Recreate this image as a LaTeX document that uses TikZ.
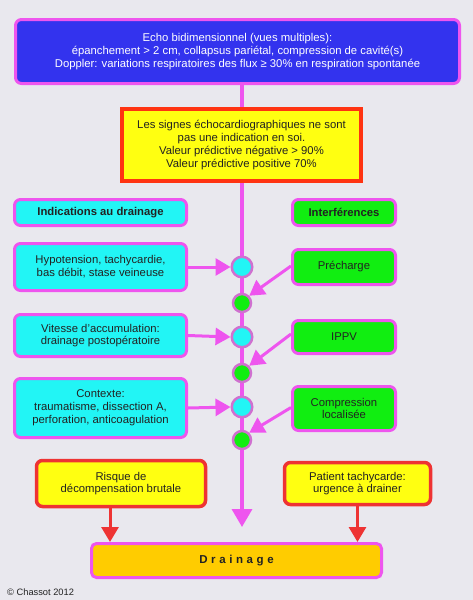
\documentclass[tikz,border=0pt]{standalone}
\usepackage{fontspec}
\setmainfont{Liberation Sans}
\usetikzlibrary{arrows.meta,backgrounds,calc}
\definecolor{bg}{HTML}{E9E8EE}
\definecolor{mag}{HTML}{EE55EE}
\definecolor{dotb}{HTML}{D070D0}
\definecolor{blu}{HTML}{3333EE}
\definecolor{cya}{HTML}{22F5F5}
\definecolor{grn}{HTML}{11EE11}
\definecolor{yel}{HTML}{FFFF11}
\definecolor{redb}{HTML}{EE3333}
\definecolor{orb}{HTML}{FF3311}
\definecolor{gold}{HTML}{FFCC00}
\definecolor{txt}{HTML}{222222}
\tikzset{
  base/.style={align=center, inner sep=2pt, text=txt, font=\fontsize{11.3}{12.8}\selectfont},
  mbox/.style={base, draw=mag, line width=3pt, rounded corners=6pt},
  rbox/.style={base, draw=redb, line width=3.5pt, rounded corners=6pt, fill=yel},
  cbox/.style={mbox, fill=cya, minimum width=172pt},
  gbox/.style={mbox, fill=grn, minimum width=103pt},
  cdot/.style={circle, draw=dotb, line width=2.5pt, fill=cya, minimum size=20.5pt, inner sep=0pt},
  gdot/.style={circle, draw=dotb, line width=2.5pt, fill=grn, minimum size=18pt, inner sep=0pt},
  marrow/.style={draw=mag, line width=3pt, -{Triangle[width=17pt,length=15pt]}},
  rarrow/.style={draw=redb, line width=3pt, -{Triangle[width=17pt,length=15pt]}},
}
\begin{document}
\begin{tikzpicture}[x=1pt,y=-1pt]
\begin{scope}[on background layer]
  \fill[bg] (0,0) rectangle (473,600);
\end{scope}
\useasboundingbox (0,0) rectangle (473,600);

\node[mbox, fill=blu, text=white, minimum width=444pt, minimum height=64pt] (top) at (237.5,51.5)
  {Echo bidimensionnel (vues multiples):\\
   épanchement > 2 cm, collapsus pariétal, compression de cavité(s)\\
   Doppler: variations respiratoires des flux ≥ 30\% en respiration spontanée};

\node[base, draw=orb, line width=4pt, fill=yel, minimum width=239pt, minimum height=72pt] (warn) at (241.5,145)
  {Les signes échocardiographiques ne sont\\ pas une indication en soi.\\
   Valeur prédictive négative > 90\%\\ Valeur prédictive positive 70\%};

\node[cbox, minimum height=26pt, font=\fontsize{11.3}{12.8}\selectfont\bfseries] (indh) at (100.5,212.5) {Indications au drainage};
\node[gbox, minimum height=26pt, font=\fontsize{11.3}{12.8}\selectfont\bfseries] (intf) at (344,212.5) {Interférences};

\node[cbox, minimum height=47pt] (hyp) at (100.5,267) {Hypotension, tachycardie,\\ bas débit, stase veineuse};
\node[gbox, minimum height=35pt] (pre) at (344,267) {\raisebox{4pt}{Précharge}};
\node[cbox, minimum height=42pt] (vit) at (100.5,335.5) {Vitesse d'accumulation:\\ drainage postopératoire};
\node[gbox, minimum height=33pt] (ippv) at (344,337) {IPPV};
\node[cbox, minimum height=59pt] (ctx) at (100.5,408) {Contexte:\\ traumatisme, dissection A,\\ perforation, anticoagulation};
\node[gbox, minimum height=44pt] (comp) at (344,408.5) {Compression\\ localisée};

\node[cdot] (c1) at (242,267) {};
\node[gdot] (g1) at (242,303) {};
\node[cdot] (c2) at (242,337) {};
\node[gdot] (g2) at (242,373) {};
\node[cdot] (c3) at (242,407) {};
\node[gdot] (g3) at (242,440) {};

\node[rbox, minimum width=169pt, minimum height=46pt] (risk) at (121,483.5) {Risque de\\ décompensation brutale};
\node[rbox, minimum width=146pt, minimum height=42pt] (pat) at (357.5,483.5) {Patient tachycarde:\\ urgence à drainer};

\node[mbox, fill=gold, rounded corners=5pt, minimum width=290pt, minimum height=34pt,
  font=\fontsize{11.5}{12}\selectfont\bfseries] (drain) at (236.5,560.5)
  {D\hspace{3.6pt}r\hspace{3.6pt}a\hspace{3.6pt}i\hspace{3.6pt}n\hspace{3.6pt}a\hspace{3.6pt}g\hspace{3.6pt}e};

\node[base, anchor=west, inner sep=0pt, font=\fontsize{9.3}{11}\selectfont] (copy) at (7,592) {© Chassot 2012};

\coordinate (tip) at (242,527);
\begin{scope}[on background layer]
  \draw[draw=mag, line width=3.5pt] (top.south -| tip) -- (g3.center);
\end{scope}
\draw[draw=mag, line width=3.5pt, -{Triangle[width=20pt,length=18pt]}] (g3.south) -- (tip);

\draw[marrow] (hyp.east) -- (c1.west);
\draw[marrow] (vit.east) -- (c2.west);
\draw[marrow] (ctx.east) -- (c3.west);
\draw[marrow] ([yshift=1pt]pre.west) -- (g1.north east);
\draw[marrow] ([yshift=3pt]ippv.west) -- (g2.north east);
\draw[marrow] ([yshift=1pt]comp.west) -- (g3.north east);

\coordinate (ra) at ([xshift=-11pt]risk.south);
\draw[rarrow] (ra) -- (ra |- drain.north);
\draw[rarrow] (pat.south) -- (pat.south |- drain.north);
\end{tikzpicture}
\end{document}
